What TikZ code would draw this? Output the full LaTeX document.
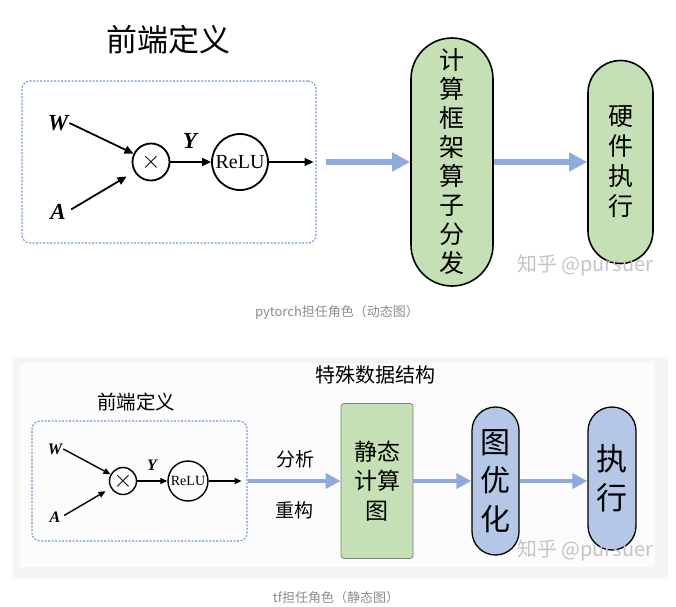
\documentclass[tikz,border=0pt]{standalone}
\usepackage{fontspec}
\setmainfont{Liberation Serif}
\newfontfamily\cjk{Noto Sans CJK SC}
\usetikzlibrary{arrows.meta}
\newcommand\myfs[1]{\fontsize{#1}{#1}\selectfont}
\definecolor{pillgreen}{HTML}{C5E0B4}
\definecolor{pillblue}{HTML}{B4C7E7}
\definecolor{flowblue}{HTML}{8FAADC}
\definecolor{dashblue}{HTML}{7098D4}
\definecolor{capgray}{HTML}{8C8C8C}
\definecolor{wmgray}{HTML}{C4C4C4}
\definecolor{panelout}{HTML}{F5F5F5}
\definecolor{panelin}{HTML}{FCFCFC}
\begin{document}
\begin{tikzpicture}[x=1pt,y=-1pt,
  frontbox/.style={draw=dashblue, dash pattern=on 2pt off 1.5pt, line width=1.1pt, rounded corners=8pt, inner sep=0pt},
  opnode/.style={circle, draw, line width=1.8pt, inner sep=0pt},
  opnodeb/.style={circle, draw, line width=1.4pt, inner sep=0pt},
  var/.style={font=\bfseries\itshape\myfs{23}, inner sep=1pt},
  varb/.style={font=\bfseries\itshape\myfs{16}, inner sep=1pt},
  blk/.style={-{Triangle[length=9pt,width=8pt]}, line width=1.8pt},
  blkb/.style={-{Triangle[length=7pt,width=6pt]}, line width=1.4pt},
  flow/.style={-{Triangle[length=18pt,width=18pt]}, line width=6pt, draw=flowblue},
  flowb/.style={-{Triangle[length=15pt,width=15pt]}, line width=4.5pt, draw=flowblue},
  pill/.style={draw, line width=1.6pt, inner sep=0pt, align=center},
  captext/.style={font=\cjk\myfs{13}, text=capgray},
  wm/.style={font=\cjk\myfs{20}, text=wmgray},
  lbl/.style={font=\cjk\myfs{19}}
]
\useasboundingbox (0,0) rectangle (676,606);

% ---------------- top: pytorch ----------------
\node[font=\cjk\myfs{31}] (t1) at (168,40) {前端定义};
\node[frontbox, minimum width=294pt, minimum height=162pt] (box1) at (169,162) {};
\node[var] (W1) at (58,123) {W};
\node[var] (A1) at (58,212) {A};
\node[var] (Y1) at (190,141) {Y};
\node[opnode, minimum size=37pt, font=\myfs{38}] (mul1) at (151,162) {$\times$};
\node[opnode, minimum size=56pt, font=\myfs{20}] (relu1) at (240,162) {ReLU};
\node[pill, fill=pillgreen, minimum width=82pt, minimum height=248pt, rounded corners=41pt,
      font=\cjk\fontsize{25}{29}\selectfont] (p1) at (452,162) {计\\算\\框\\架\\算\\子\\分\\发};
\node[pill, fill=pillgreen, minimum width=65pt, minimum height=203pt, rounded corners=32.5pt,
      font=\cjk\fontsize{25}{30}\selectfont] (p2) at (620.5,162) {硬\\件\\执\\行};

\draw[blk] (W1.east) -- (mul1);
\draw[blk, shorten <=5pt, shorten >=9pt] (A1.east) -- (mul1);
\draw[blk] (mul1) -- (relu1);
\draw[blk, shorten >=3pt] (relu1) -- (box1.east);
\draw[flow, shorten <=9pt] (box1.east) -- (p1);
\draw[flow] (p1) -- (p2);

\node[wm] (wm1) at (585,265) {知乎 @pursuer};
\node[captext] (c1) at (337,312) {pytorch担任角色（动态图）};

% ---------------- bottom: tf ----------------
\fill[panelout] (13,357) rectangle (668,579);
\fill[panelin] (20,363) rectangle (654,567);

\node[font=\cjk\myfs{20}] (t2) at (375,375) {特殊数据结构};
\node[font=\cjk\myfs{19.5}] (t3) at (136,402) {前端定义};
\node[frontbox, minimum width=215pt, minimum height=120pt] (box2) at (139.5,481) {};
\node[varb] (W2) at (55,449) {W};
\node[varb] (A2) at (55,517) {A};
\node[varb] (Y2) at (152,465) {Y};
\node[opnodeb, minimum size=27pt, font=\myfs{28}] (mul2) at (123,481) {$\times$};
\node[opnodeb, minimum size=40pt, font=\myfs{14}] (relu2) at (188,481) {ReLU};
\node[lbl] (an) at (295,459) {分析};
\node[lbl] (rc) at (294,510) {重构};
\node[draw=gray, line width=0.8pt, fill=pillgreen, rounded corners=3pt, minimum width=72pt, minimum height=155pt,
      align=center, inner sep=0pt, font=\cjk\fontsize{23}{29.5}\selectfont] (g1) at (377,481) {静态\\计算\\图};
\node[pill, line width=1.3pt, fill=pillblue, minimum width=47pt, minimum height=148pt, rounded corners=23.5pt,
      font=\cjk\fontsize{30}{38.5}\selectfont] (p3) at (495.5,481) {图\\优\\化};
\node[pill, line width=1.3pt, fill=pillblue, minimum width=48pt, minimum height=143pt, rounded corners=24pt,
      font=\cjk\fontsize{31}{39}\selectfont] (p4) at (612,478.5) {执\\行};

\draw[blkb] (W2.east) -- (mul2);
\draw[blkb, shorten <=3pt, shorten >=6pt] (A2.east) -- (mul2);
\draw[blkb] (mul2) -- (relu2);
\draw[blkb, shorten >=6pt] (relu2) -- (box2.east);
\draw[flowb] (box2.east) -- (g1);
\draw[flowb] (g1) -- (p3);
\draw[flowb] (p3.east) -- (p3.east -| p4.west);

\node[wm] (wm2) at (585,550) {知乎 @pursuer};
\node[captext] (c2) at (336,598) {tf担任角色（静态图）};
\end{tikzpicture}
\end{document}
